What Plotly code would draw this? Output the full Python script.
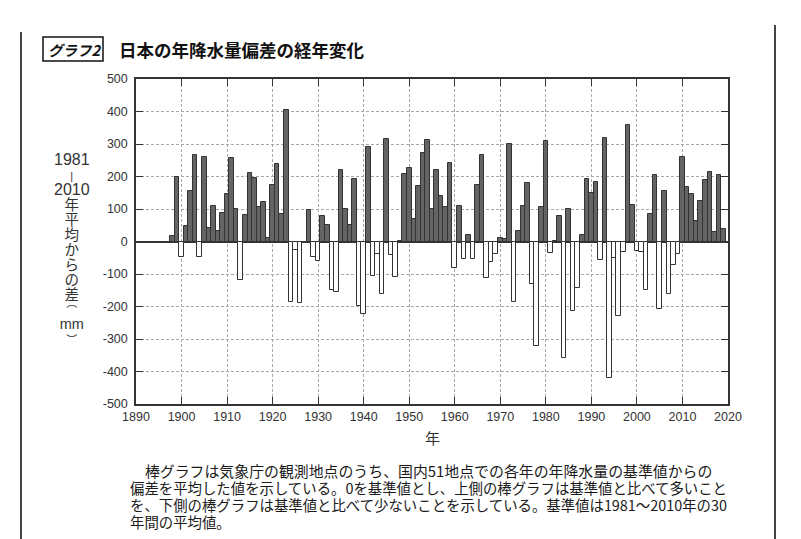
import plotly.graph_objects as go

years = list(range(1898, 2020))
anomaly_mm = [
    18, 200, -47, 48, 156, 267, -49, 259, 41, 109,        # 1898-1907
    33, 88, 147, 257, 99, -118, 81, 210, 196, 105,        # 1908-1917
    123, 11, 173, 239, 84, 406, -187, -25, -189, -6,      # 1918-1927
    97, -49, -60, 80, 51, -149, -154, 219, 100, 51,       # 1928-1937
    192, -197, -223, 292, -105, -39, -161, 316, -43, -110,  # 1938-1947
    3, 207, 226, 68, 170, 271, 312, 99, 221, 140,         # 1948-1957
    107, 243, -82, 110, -54, 20, -53, 175, 267, -113,     # 1958-1967
    -64, -38, 11, 7, 301, -185, 31, 110, 181, -130,       # 1968-1977
    -321, 106, 310, -35, 3, 78, -357, 99, -214, -144,     # 1978-1987
    21, 191, 150, 184, -58, 320, -419, -50, -230, -33,    # 1988-1997
    358, 112, -28, -31, -148, 84, 206, -209, 156, -160,   # 1998-2007
    -73, -37, 260, 169, 146, 62, 125, 190, 213, 29,       # 2008-2017
    205, 37,                                              # 2018-2019
]
x_ticks = list(range(1890, 2021, 10))
y_ticks = list(range(-500, 501, 100))

title_tag = "グラフ2"
title_text = "日本の年降水量偏差の経年変化"
x_title = "年"
y_title_lines = ["1981", "|", "2010", "年", "平", "均", "か", "ら", "の", "差", "⌒", "mm", "︶"]
caption_lines = [
    "　棒グラフは気象庁の観測地点のうち、国内51地点での各年の年降水量の基準値からの",
    "偏差を平均した値を示している。0を基準値とし、上側の棒グラフは基準値と比べて多いこと",
    "を、下側の棒グラフは基準値と比べて少ないことを示している。基準値は1981～2010年の30",
    "年間の平均値。",
]

# the page body has an 8px margin, so the figure starts at (8, 8) in the window
OFF = 8
W, H = 801 - OFF, 539 - OFF
L, R, T, B = 136 - OFF, 728 - OFF, 79 - OFF, 404 - OFF
JP = "Noto Sans CJK JP"
SANS = "Liberation Sans, Arial, sans-serif"
MIX = "Liberation Sans, Noto Sans CJK JP, sans-serif"
INK = "#333333"


def px(x):
    # window pixel -> paper x
    return (x - OFF - L) / (R - L)


def py(y):
    # window pixel -> paper y
    return (B - (y - OFF)) / (B - T)


colors = ["#646464" if v >= 0 else "#ffffff" for v in anomaly_mm]

fig = go.Figure(
    go.Bar(
        x=years,
        y=anomaly_mm,
        width=1.0,
        marker=dict(color=colors, line=dict(color="#333333", width=1)),
        hoverinfo="x+y",
    )
)

axis_common = dict(
    showline=True, linecolor=INK, linewidth=1.5, mirror="ticks",
    ticks="inside", ticklen=7, tickcolor=INK, tickwidth=1,
    showgrid=True, gridcolor="#a8a8a8", gridwidth=1, griddash="3px,2px",
    tickfont=dict(family=SANS, size=12.5, color=INK),
)

fig.update_xaxes(
    range=[1890, 2020], tickvals=x_ticks, ticktext=[str(t) for t in x_ticks],
    zeroline=False, **axis_common,
)
fig.update_yaxes(
    range=[-500, 500], tickvals=y_ticks, ticktext=[str(t) for t in y_ticks],
    zeroline=True, zerolinecolor=INK, zerolinewidth=1.5, ticklabelstandoff=4,
    **axis_common,
)

ann = []
# title
ann.append(dict(x=px(46), y=py(49.5), xref="paper", yref="paper", xanchor="left", yanchor="middle",
                text="<b><i>" + title_tag + "</i></b>", showarrow=False,
                font=dict(family=JP, size=14.5, color="#111111")))
ann.append(dict(x=px(117), y=py(49.5), xref="paper", yref="paper", xanchor="left", yanchor="middle",
                text="<b>" + title_text + "</b>", showarrow=False,
                font=dict(family=JP, size=17.5, color="#111111")))


# y title: one stacked text, lines 15px apart (base size 11.5 * 1.3), glyphs enlarged via spans
def span(t):
    if t in ("1981", "2010"):
        size = 16
    elif t in ("|", "⌒", "︶"):
        size = 11
    else:
        size = 14.5
    return '<span style="font-size:%spx">%s</span>' % (size, t)


ann.append(dict(x=px(72), y=py(248), xref="paper", yref="paper", xanchor="center", yanchor="middle",
                text="<br>".join(span(t) for t in y_title_lines), showarrow=False, align="center",
                font=dict(family=MIX, size=11.5, color=INK)))
# x title
ann.append(dict(x=px(432), y=py(437), xref="paper", yref="paper", xanchor="center", yanchor="middle",
                text=x_title, showarrow=False, font=dict(family=JP, size=15, color=INK)))


# caption: one block, lines 17px apart (base size 13.08 * 1.3), glyphs sized via spans
def cap_span(t, size):
    return '<span style="font-size:%spx">%s</span>' % (size, t)


cap_sizes = [14.9, 14.4, 14.4, 14.4]
ann.append(dict(x=px(128), y=py(496.5), xref="paper", yref="paper", xanchor="left", yanchor="middle",
                align="left", showarrow=False,
                text="<br>".join(cap_span(t, s) for t, s in zip(caption_lines, cap_sizes)),
                font=dict(family=JP, size=13.08, color="#1a1a1a")))

shapes = [
    # title tag box
    dict(type="rect", xref="paper", yref="paper", x0=px(43), x1=px(103), y0=py(61), y1=py(37),
         line=dict(color="#111111", width=1.5), fillcolor="rgba(0,0,0,0)"),
    # page border lines
    dict(type="line", xref="paper", yref="paper", x0=px(21), x1=px(21), y0=py(32), y1=py(539),
         line=dict(color="#444444", width=2)),
    dict(type="line", xref="paper", yref="paper", x0=px(775), x1=px(775), y0=py(25), y1=py(539),
         line=dict(color="#444444", width=2)),
]

fig.update_layout(
    width=W, height=H,
    margin=dict(l=L, r=W - R, t=T, b=H - B),
    paper_bgcolor="white", plot_bgcolor="white",
    bargap=0, showlegend=False,
    annotations=ann, shapes=shapes,
    font=dict(family=SANS, color=INK),
)

fig.write_html("out.html")
